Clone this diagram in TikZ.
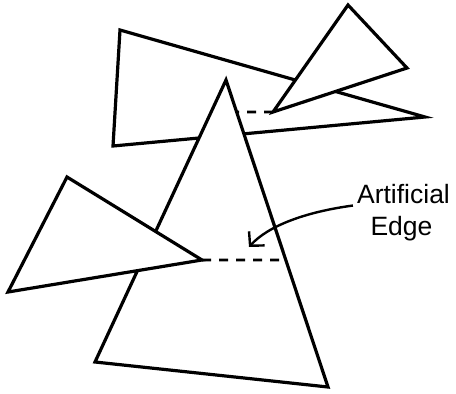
\documentclass[tikz,border=0pt]{standalone}
\usepackage{fontspec}
\setmainfont{Liberation Sans}
\usetikzlibrary{arrows.meta,calc}
\begin{document}
\begin{tikzpicture}[x=1pt,y=-1pt,
  tri/.style={draw=black,line width=3.2pt,line join=miter,fill=white},
  artedge/.style={draw=black,line width=2.6pt,dash pattern=on 9pt off 8pt},
  pointer/.style={draw=black,line width=2.4pt,-{Straight Barb[length=10pt,width=21pt]}},
  lbl/.style={font=\fontsize{26.5}{32}\selectfont,inner sep=0pt,anchor=base}]
\useasboundingbox (0,0) rectangle (456,394);
% vertices
\coordinate (B1) at (120,30);  \coordinate (B2) at (425,117); \coordinate (B3) at (113,146);
\coordinate (S1) at (348,5);   \coordinate (S2) at (407,68);  \coordinate (S3) at (273,112);
\coordinate (F1) at (226,80);  \coordinate (F2) at (328,387); \coordinate (F3) at (95,362);
\coordinate (L1) at (67,177);  \coordinate (L2) at (202,260); \coordinate (L3) at (8,292);
% back triangle
\draw[tri] (B1) -- (B2) -- (B3) -- cycle;
% small top-right triangle
\draw[tri] (S1) -- (S2) -- (S3) -- cycle;
% front triangle
\draw[tri] (F1) -- (F2) -- (F3) -- cycle;
% left triangle
\draw[tri] (L1) -- (L2) -- (L3) -- cycle;
% artificial edges
\coordinate (L2r) at ($(L2)+(10,0)$);
\coordinate (X1) at (intersection of F1--F2 and L2--L2r);
\coordinate (S3l) at ($(S3)+(-10,0)$);
\coordinate (X2) at (intersection of F1--F2 and S3--S3l);
\draw[artedge] (L2) -- (X1);
\draw[artedge] (S3) -- (X2);
% label and pointer
\node[lbl] (t1) at (403.5,203) {Artificial};
\node[lbl] (t2) at (401.5,235) {Edge};
\coordinate (tip) at (249,247);
\draw[pointer] ($(t1.west)+(-4,12)$) .. controls (305,212) and (268,226) .. (tip);
\end{tikzpicture}
\end{document}
